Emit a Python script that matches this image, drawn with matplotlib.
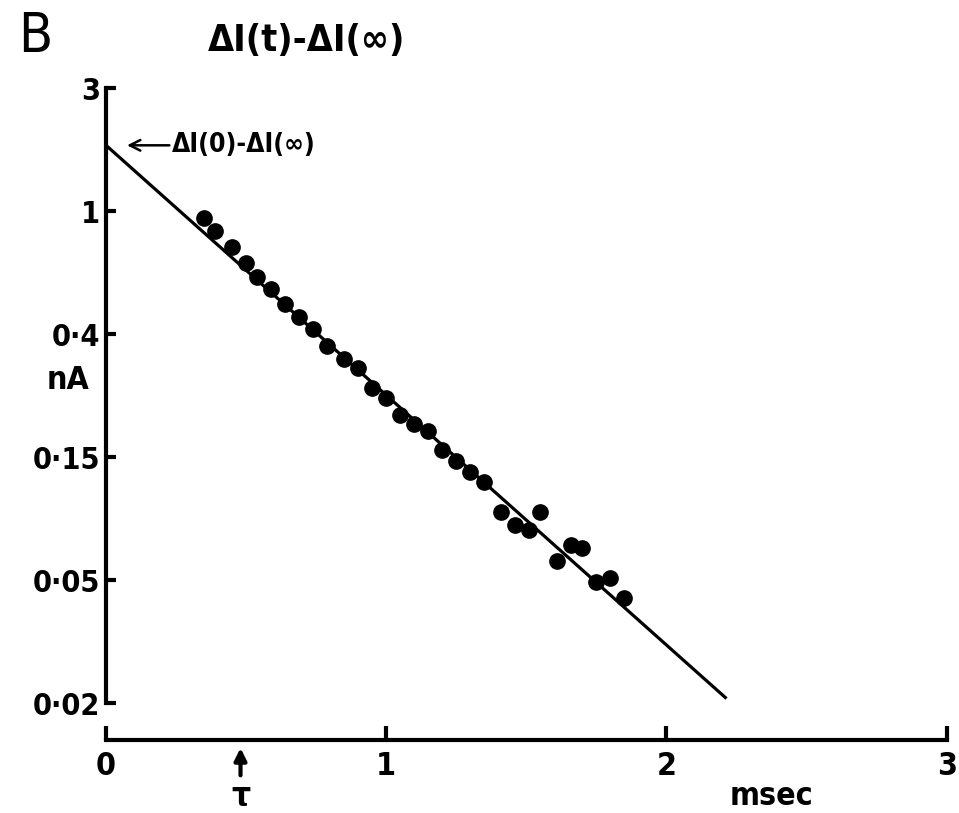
import numpy as np
import matplotlib
matplotlib.use("Agg")
import matplotlib.pyplot as plt

# data (time in msec, current in nA)
t_pts = [0.35, 0.39, 0.45, 0.50, 0.54, 0.59, 0.64, 0.69, 0.74, 0.79, 0.85,
         0.90, 0.95, 1.00, 1.05, 1.10, 1.15, 1.20, 1.25, 1.30, 1.35, 1.41,
         1.46, 1.51, 1.55, 1.61, 1.66, 1.70, 1.75, 1.80, 1.85]
i_pts = [0.945, 0.854, 0.750, 0.658, 0.588, 0.530, 0.471, 0.422, 0.383, 0.3345,
         0.300, 0.279, 0.237, 0.2187, 0.1909, 0.1770, 0.168, 0.1436, 0.1316,
         0.1204, 0.1110, 0.0869, 0.0780, 0.0749, 0.0865, 0.0583, 0.0664,
         0.0646, 0.0492, 0.0506, 0.0432]

fit_t = [0.0, 2.21]
fit_i = [1.71, 0.0192]

tau = 0.48

# y ticks sit at e-fold steps, labelled as on the original
ytick_ln = [1, 0, -1, -2, -3, -4]
ytick_labels = ["3", "1", "0·4", "0·15", "0·05", "0·02"]
xticks = [0, 1, 2, 3]

plt.rcParams['font.family'] = ['DejaVu Sans']
plt.rcParams['font.stretch'] = 'condensed'
plt.rcParams['font.weight'] = 'bold'

fig = plt.figure(figsize=(9.59, 8.13), dpi=100)
ax = fig.add_axes([106 / 959, 1 - 703.3 / 813, 840.7 / 959, 615 / 813])

ax.plot(fit_t, fit_i, color='black', lw=2.3, clip_on=False)
ax.plot(t_pts, i_pts, 'o', color='black', ms=11, clip_on=False)

ax.set_yscale('log')
ax.set_ylim(np.exp(-4), np.exp(1))
ax.set_xlim(0, 3)

ax.set_yticks(np.exp(ytick_ln))
ax.set_yticklabels(ytick_labels)
ax.yaxis.set_minor_locator(matplotlib.ticker.NullLocator())
ax.set_xticks(xticks)
ax.set_xticklabels([str(x) for x in xticks])

for s in ['top', 'right']:
    ax.spines[s].set_visible(False)
ax.spines['left'].set_linewidth(3)
ax.spines['bottom'].set_linewidth(3)
ax.spines['bottom'].set_position(('outward', 26.5))

ax.tick_params(axis='y', direction='in', length=7, width=3, pad=4, labelsize=22)
ax.tick_params(axis='x', direction='in', length=10, width=3, pad=8, labelsize=23)

# labels and annotations
fig.text(18 / 959, 1 - 10 / 813, "B", fontsize=40, ha='left', va='top', fontweight='normal')
fig.text(307 / 959, 1 - 41 / 813, "ΔI(t)-ΔI(∞)", fontsize=27, ha='center', va='center')
fig.text(68 / 959, 1 - 380 / 813, "nA", fontsize=23, ha='center', va='center')
fig.text(771 / 959, 1 - 796 / 813, "msec", fontsize=23, ha='center', va='center')

ax.annotate("ΔI(0)-ΔI(∞)", xy=(0.075, fit_i[0]), xytext=(0.236, fit_i[0]),
            fontsize=19, ha='left', va='center',
            arrowprops=dict(arrowstyle='->', lw=1.8, color='black', shrinkA=0, shrinkB=0))

ax.annotate("τ", xy=(tau, (813 - 748) / 813), xycoords=('data', 'figure fraction'),
            xytext=(tau, (813 - 796) / 813), textcoords=('data', 'figure fraction'),
            fontsize=24, ha='center', va='center',
            arrowprops=dict(arrowstyle='-|>', lw=3, color='black', mutation_scale=18,
                            shrinkA=1, shrinkB=0))

fig.savefig("out.png", dpi=100)
